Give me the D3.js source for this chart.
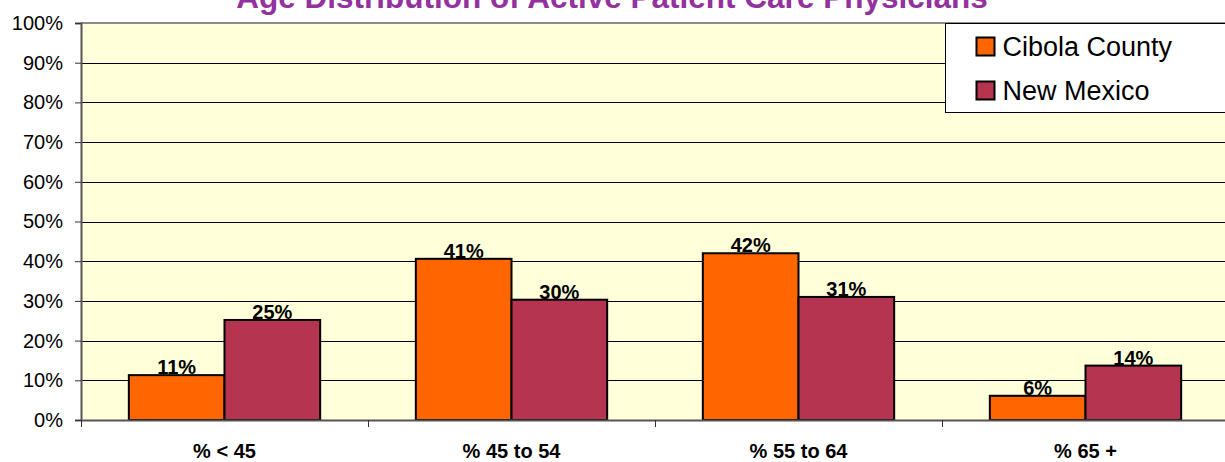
<!DOCTYPE html>
<html>
<head>
<meta charset="utf-8">
<script src="https://d3js.org/d3.v7.min.js"></script>
<style>
  body { margin: 0; background: #fff; }
  svg { display: block; font-family: Arial, "Liberation Sans", sans-serif; }
</style>
</head>
<body>
<div id="container"></div>
<script>
// chart values
const categories = ["% < 45", "% 45 to 54", "% 55 to 64", "% 65 +"];
const seriesNames = ["Cibola County", "New Mexico"];
const cibola = [11.3, 40.6, 42.0, 6.1];
const newMexico = [25.2, 30.3, 31.0, 13.7];
const cibolaLabels = ["11%", "41%", "42%", "6%"];
const nmLabels = ["25%", "30%", "31%", "14%"];
const yTicks = [0, 10, 20, 30, 40, 50, 60, 70, 80, 90, 100];

const colors = ["#FF6600", "#B5344F"];

const width = 1225, height = 462;
const plot = {left: 81, right: 1229, top: 23, bottom: 420};
const fontFam = "Arial, 'Liberation Sans', sans-serif";

const svg = d3.select("#container")
  .append("svg")
  .attr("width", width)
  .attr("height", height);

// build rows for drawing
const rows = categories.map((c, i) => ({
  cat: c,
  vals: [
    {s: seriesNames[0], v: cibola[i], label: cibolaLabels[i]},
    {s: seriesNames[1], v: newMexico[i], label: nmLabels[i]}
  ]
}));

const x0 = d3.scaleBand()
  .domain(categories)
  .range([plot.left, plot.right])
  .paddingInner(0)
  .paddingOuter(0);
const x1 = d3.scaleBand()
  .domain(seriesNames)
  .range([0, x0.bandwidth()])
  .paddingInner(0)
  .paddingOuter(0.5);
const y = d3.scaleLinear()
  .domain([0, 100])
  .range([plot.bottom, plot.top]);
const color = d3.scaleOrdinal().domain(seriesNames).range(colors);

// plot background
svg.append("rect")
  .attr("x", plot.left)
  .attr("y", plot.top)
  .attr("width", plot.right - plot.left)
  .attr("height", plot.bottom - plot.top)
  .attr("fill", "#FFFFD9");

// gridlines
svg.append("g")
  .selectAll("line")
  .data(yTicks.filter(d => d > 0 && d < 100))
  .join("line")
  .attr("x1", plot.left)
  .attr("x2", plot.right)
  .attr("y1", d => Math.round(y(d)) + 0.5)
  .attr("y2", d => Math.round(y(d)) + 0.5)
  .attr("stroke", "#000")
  .attr("stroke-width", 1);

// top border of plot
svg.append("line")
  .attr("x1", plot.left).attr("x2", plot.right)
  .attr("y1", plot.top).attr("y2", plot.top)
  .attr("stroke", "#8c8c8c").attr("stroke-width", 2);

// bars
const groups = svg.append("g")
  .selectAll("g")
  .data(rows)
  .join("g")
  .attr("transform", d => `translate(${x0(d.cat)},0)`);

groups.selectAll("text")
  .data(d => d.vals)
  .join("text")
  .attr("x", d => x1(d.s) + x1.bandwidth() / 2)
  .attr("y", d => y(d.v) - 1)
  .attr("text-anchor", "middle")
  .attr("font-size", 20)
  .attr("font-weight", "bold")
  .attr("fill", "#000")
  .text(d => d.label);

groups.selectAll("rect")
  .data(d => d.vals)
  .join("rect")
  .attr("x", d => x1(d.s))
  .attr("y", d => y(d.v))
  .attr("width", x1.bandwidth())
  .attr("height", d => y(0) - y(d.v))
  .attr("fill", d => color(d.s))
  .attr("stroke", "#000")
  .attr("stroke-width", 2);

// y axis
const yAxis = d3.axisLeft(y)
  .tickValues(yTicks)
  .tickSize(6)
  .tickFormat(d => d + "%");
const yG = svg.append("g")
  .attr("transform", `translate(${plot.left},0)`)
  .call(yAxis);
yG.select(".domain").attr("stroke", "#555").attr("stroke-width", 2);
yG.selectAll(".tick line").attr("stroke", "#333");
yG.selectAll(".tick text")
  .attr("font-size", 20)
  .attr("font-family", fontFam)
  .attr("fill", "#000")
  .attr("x", -18);

// x axis
const xAxis = d3.axisBottom(x0).tickSize(0).tickSizeOuter(0);
const xG = svg.append("g")
  .attr("transform", `translate(0,${plot.bottom})`)
  .call(xAxis);
xG.select(".domain").attr("stroke", "#555").attr("stroke-width", 2);
xG.selectAll(".tick text")
  .attr("y", 38)
  .attr("dy", 0)
  .attr("font-size", 20)
  .attr("font-weight", "bold")
  .attr("font-family", fontFam)
  .attr("fill", "#000");
// category boundary ticks
xG.append("g")
  .selectAll("line")
  .data(categories)
  .join("line")
  .attr("x1", d => Math.round(x0(d)) + 0.5)
  .attr("x2", d => Math.round(x0(d)) + 0.5)
  .attr("y1", 0)
  .attr("y2", 7)
  .attr("stroke", "#333");

// title (clipped at top in the reference)
svg.append("text")
  .attr("x", 612)
  .attr("y", 8)
  .attr("text-anchor", "middle")
  .attr("font-size", 31.5)
  .attr("font-weight", "bold")
  .attr("fill", "#93329E")
  .text("Age Distribution of Active Patient Care Physicians");

// legend
const legend = svg.append("g").attr("transform", "translate(945.5,23.5)");
legend.append("rect")
  .attr("width", 290)
  .attr("height", 89)
  .attr("fill", "#fff")
  .attr("stroke", "#000")
  .attr("stroke-width", 1);
const li = legend.selectAll(".item")
  .data(seriesNames)
  .join("g")
  .attr("class", "item")
  .attr("transform", (d, i) => `translate(31,${14 + i * 44})`);
li.append("rect")
  .attr("width", 18)
  .attr("height", 18)
  .attr("fill", d => color(d))
  .attr("stroke", "#000")
  .attr("stroke-width", 2);
li.append("text")
  .attr("x", 26)
  .attr("y", 18.5)
  .attr("font-size", 27)
  .attr("fill", "#000")
  .text(d => d);
</script>
</body>
</html>
